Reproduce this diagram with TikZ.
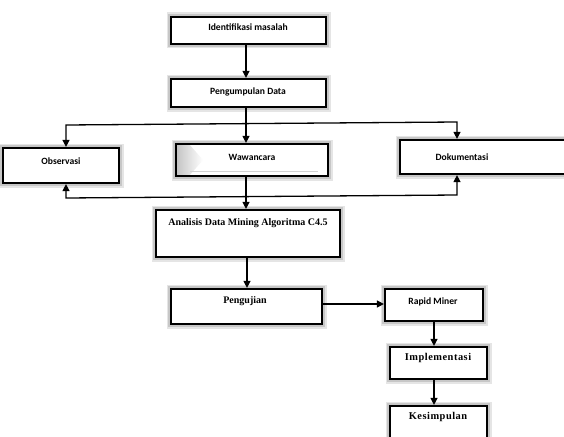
\documentclass[tikz,border=0pt]{standalone}
\usepackage{fontspec}
\setmainfont{Liberation Serif}
\newfontfamily\carlitofam{Carlito}
\newfontfamily\tmsfam{Liberation Serif}
\newfontfamily\tmswfam[LetterSpace=5]{Liberation Serif}
\usetikzlibrary{arrows.meta}
\begin{document}
\begin{tikzpicture}[x=1pt,y=-1pt,
  box/.style={draw=black,line width=2.2pt,fill=white,rectangle,inner sep=0pt,
    preaction={draw=black!10,line width=9pt},
    preaction={draw=black!22,line width=6pt}},
  tsans/.style={font=\carlitofam\bfseries\fontsize{9.6}{11}\selectfont,inner sep=0pt},
  tser/.style={font=\tmsfam\bfseries\fontsize{10}{12}\selectfont,inner sep=0pt},
  tserw/.style={font=\tmswfam\bfseries\fontsize{10.4}{12}\selectfont,inner sep=0pt},
  conn/.style={line width=1.3pt},
  arr/.style={conn,-{Triangle[length=7pt,width=7pt]}},
  arrs/.style={conn,{Triangle[length=7pt,width=7pt]}-{Triangle[length=7pt,width=7pt]}}]
\useasboundingbox (0,0) rectangle (564,436);
% boxes
\node[box,minimum width=155pt,minimum height=27pt] (iden) at (248.5,30.5) {};
\node[box,minimum width=155pt,minimum height=28pt] (pd) at (248.5,93) {};
\node[box,minimum width=116pt,minimum height=35pt] (obs) at (61,165.5) {};
\node[box,minimum width=152pt,minimum height=32pt] (waw) at (252,160) {};
\node[box,minimum width=170pt,minimum height=34pt] (dok) at (485,157) {};
\node[box,minimum width=184pt,minimum height=47pt] (ana) at (248,233.5) {};
\node[box,minimum width=151pt,minimum height=35pt] (pen) at (246.5,306.5) {};
\node[box,minimum width=98pt,minimum height=32pt] (rm) at (434,305) {};
\node[box,minimum width=97pt,minimum height=32pt] (imp) at (438.5,363) {};
\node[box,minimum width=97pt,minimum height=40pt] (kes) at (438.5,426) {};
% Wawancara decoration
\shade[left color=gray!45,right color=white] (177.2,145.2) -- (190,145.2) -- (203,160) -- (190,174.8) -- (177.2,174.8) -- cycle;
\draw[gray!35,line width=0.6pt] (190,171) -- (318,171);
% texts
\node[tsans] (t1) at (248,27) {Identifikasi masalah};
\node[tsans] (t2) at (248,92) {Pengumpulan Data};
\node[tsans] (t3) at (61,161) {Observasi};
\node[tsans] (t4) at (252,157) {Wawancara};
\node[tsans] (t5) at (462,157) {Dokumentasi};
\node[tser] (t6) at (248,223) {Analisis Data Mining Algoritma C4.5};
\node[tser] (t7) at (245,301) {Pengujian};
\node[tsans] (t8) at (433,302) {Rapid Miner};
\node[tserw] (t9) at (438,358) {Implementasi};
\node[tserw] (t10) at (438,417) {Kesimpulan};
% coordinates
\coordinate (ax) at (246,0);
\coordinate (bx) at (247,0);
\coordinate (cx) at (434,0);
\coordinate (py) at (0,304);
\coordinate (tl) at (66,125);
\coordinate (tr) at (457,122);
\coordinate (bl) at (66,198);
\coordinate (br) at (457,195);
% connectors
\draw[arr] (iden.south -| ax) -- (pd.north -| ax);
\draw[arr] (pd.south -| ax) -- (waw.north -| ax);
\draw[arrs] (obs.north -| tl) -- (tl) -- (tr) -- (dok.north -| tr);
\draw[arrs] (obs.south -| bl) -- (bl) -- (br) -- (dok.south -| br);
\draw[arr] (waw.south -| ax) -- (ana.north -| ax);
\draw[arr] (ana.south -| bx) -- (pen.north -| bx);
\draw[arr] (pen.east |- py) -- (rm.west |- py);
\draw[arr] (rm.south -| cx) -- (imp.north -| cx);
\draw[arr] (imp.south -| cx) -- (kes.north -| cx);
\end{tikzpicture}
\end{document}
